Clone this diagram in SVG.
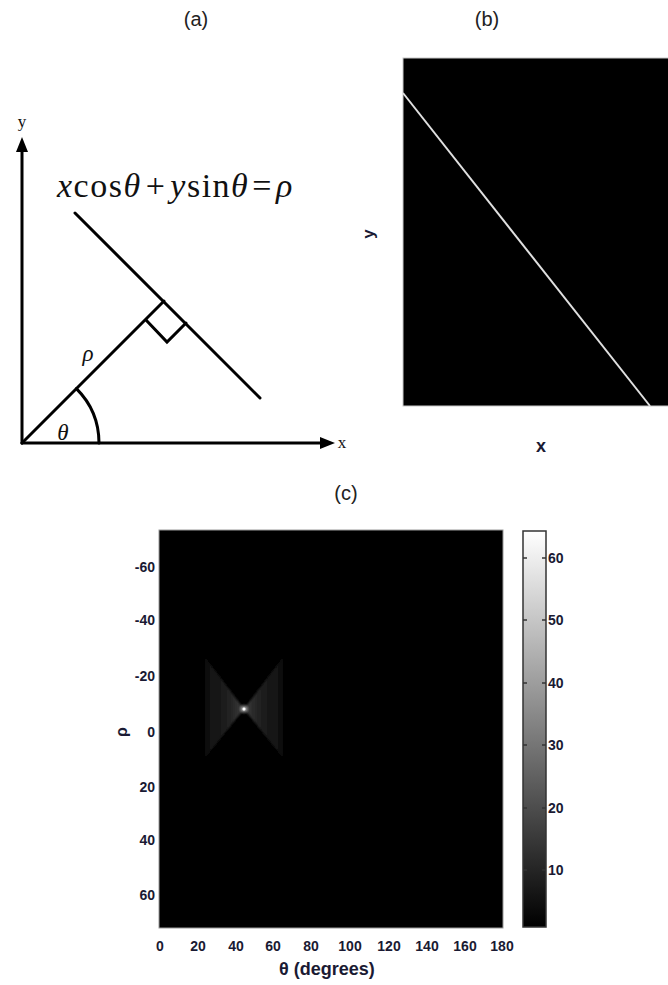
<svg xmlns="http://www.w3.org/2000/svg" width="668" height="985" viewBox="0 0 668 985">
  <style>
    .title { font-family: "Liberation Sans", Arial, sans-serif; font-size: 20px; fill: #222; text-anchor: middle; }
    .geo { stroke: #000; stroke-width: 3; fill: none; stroke-linecap: round; }
    .math { font-family: "Liberation Serif", "Times New Roman", serif; fill: #111; }
    .it { font-style: italic; }
    .tick { font-family: "Liberation Sans", Arial, sans-serif; font-size: 14px; font-weight: bold; fill: #1a1a33; }
    .lab { font-family: "Liberation Sans", Arial, sans-serif; font-weight: bold; fill: #1a1a33; }
  </style>
  <defs>
    <linearGradient id="cbar" x1="0" y1="0" x2="0" y2="1">
      <stop offset="0" stop-color="#ffffff"/>
      <stop offset="1" stop-color="#000000"/>
    </linearGradient>
    <linearGradient id="wingL" gradientUnits="userSpaceOnUse" x1="244" y1="0" x2="205" y2="0">
      <stop offset="0" stop-color="#5a5a5a"/>
      <stop offset="0.12" stop-color="#333333"/>
      <stop offset="0.45" stop-color="#1e1e1e"/>
      <stop offset="1" stop-color="#0e0e0e"/>
    </linearGradient>
    <linearGradient id="wingR" gradientUnits="userSpaceOnUse" x1="244" y1="0" x2="283" y2="0">
      <stop offset="0" stop-color="#5a5a5a"/>
      <stop offset="0.12" stop-color="#333333"/>
      <stop offset="0.45" stop-color="#1e1e1e"/>
      <stop offset="1" stop-color="#0e0e0e"/>
    </linearGradient>
    <radialGradient id="glow">
      <stop offset="0" stop-color="#ffffff"/>
      <stop offset="0.3" stop-color="#bbbbbb" stop-opacity="0.7"/>
      <stop offset="1" stop-color="#555555" stop-opacity="0"/>
    </radialGradient>
    <filter id="soft" x="-10%" y="-10%" width="120%" height="120%">
      <feGaussianBlur stdDeviation="1.2"/>
    </filter>
  </defs>
  <rect width="668" height="985" fill="#fff"/>

  <!-- Titles -->
  <text class="title" x="196" y="26">(a)</text>
  <text class="title" x="487" y="26">(b)</text>
  <text class="title" x="346" y="500">(c)</text>

  <!-- Panel (a) -->
  <g id="panel-a">
    <g id="axes-a">
      <line class="geo" x1="22" y1="443" x2="22" y2="148" stroke-linecap="butt"/>
      <polygon points="22,137 16,152 28,152" fill="#000"/>
      <line class="geo" x1="22" y1="443" x2="324" y2="443" stroke-linecap="butt"/>
      <polygon points="335,443 320,437 320,449" fill="#000"/>
      <text class="math" x="22" y="127" font-size="17" text-anchor="middle">y</text>
      <text class="math" x="342" y="448" font-size="17" text-anchor="middle">x</text>
    </g>
    <g id="line-a">
      <line class="geo" x1="75" y1="213" x2="260" y2="398"/>
      <line class="geo" x1="22" y1="443" x2="164" y2="301"/>
      <polyline class="geo" points="146,320 167,342 186,323" stroke-linejoin="miter"/>
      <path class="geo" d="M 76.4 388.6 A 77 77 0 0 1 99 443"/>
    </g>
    <text class="math it" x="63" y="440" font-size="23" text-anchor="middle">θ</text>
    <text class="math it" x="88" y="361" font-size="23" text-anchor="middle">ρ</text>
    <text class="math" x="57" y="197" font-size="34" letter-spacing="1.5"><tspan class="it">x</tspan>cos<tspan class="it">θ</tspan><tspan dx="4">+</tspan><tspan class="it" dx="4">y</tspan>sin<tspan class="it">θ</tspan><tspan dx="3">=</tspan><tspan class="it" dx="3">ρ</tspan></text>
  </g>

  <!-- Panel (b) -->
  <g id="panel-b">
    <rect x="403" y="58" width="266" height="348" fill="#000" stroke="#c8c8c8" stroke-width="1"/>
    <line x1="403" y1="93" x2="650" y2="406" stroke="#e0e0e0" stroke-width="2"/>
    <text class="lab" font-size="17" transform="translate(374,234) rotate(-90)" text-anchor="middle">y</text>
    <text class="lab" font-size="18" x="541" y="452" text-anchor="middle">x</text>
  </g>

  <!-- Panel (c) -->
  <g id="panel-c">
    <rect x="159" y="530" width="344" height="398" fill="#000" stroke="#9a9a9a" stroke-width="1"/>
    <g filter="url(#soft)">
      <polygon points="244,709 205,657 205,758" fill="url(#wingL)"/>
      <polygon points="244,709 283,657 283,758" fill="url(#wingR)"/>
    </g>
    <circle cx="244" cy="709" r="6" fill="url(#glow)"/>
    <circle cx="244" cy="709" r="1.5" fill="#fff"/>

    <g id="yticks" text-anchor="end">
      <text class="tick" x="155" y="572">-60</text>
      <text class="tick" x="155" y="625">-40</text>
      <text class="tick" x="155" y="681">-20</text>
      <text class="tick" x="155" y="737">0</text>
      <text class="tick" x="155" y="792">20</text>
      <text class="tick" x="155" y="845">40</text>
      <text class="tick" x="155" y="900">60</text>
    </g>
    <text class="lab" font-size="16" transform="translate(127,732) rotate(-90)" text-anchor="middle">ρ</text>

    <g id="xticks" text-anchor="middle">
      <text class="tick" x="160" y="951">0</text>
      <text class="tick" x="198" y="951">20</text>
      <text class="tick" x="236" y="951">40</text>
      <text class="tick" x="273" y="951">60</text>
      <text class="tick" x="311" y="951">80</text>
      <text class="tick" x="350" y="951">100</text>
      <text class="tick" x="389" y="951">120</text>
      <text class="tick" x="427" y="951">140</text>
      <text class="tick" x="465" y="951">160</text>
      <text class="tick" x="502" y="951">180</text>
    </g>
    <text class="lab" font-size="18" x="327" y="975" text-anchor="middle">θ (degrees)</text>

    <g id="colorbar">
      <rect x="523" y="531" width="23" height="396" fill="url(#cbar)" stroke="#333" stroke-width="1.5"/>
      <g stroke="#333" stroke-width="1.5">
        <line x1="523" y1="558" x2="527" y2="558"/><line x1="542" y1="558" x2="546" y2="558"/>
        <line x1="523" y1="620" x2="527" y2="620"/><line x1="542" y1="620" x2="546" y2="620"/>
        <line x1="523" y1="683" x2="527" y2="683"/><line x1="542" y1="683" x2="546" y2="683"/>
        <line x1="523" y1="745" x2="527" y2="745"/><line x1="542" y1="745" x2="546" y2="745"/>
        <line x1="523" y1="808" x2="527" y2="808"/><line x1="542" y1="808" x2="546" y2="808"/>
        <line x1="523" y1="870" x2="527" y2="870"/><line x1="542" y1="870" x2="546" y2="870"/>
      </g>
      <text class="tick" x="548" y="563">60</text>
      <text class="tick" x="548" y="625">50</text>
      <text class="tick" x="548" y="688">40</text>
      <text class="tick" x="548" y="750">30</text>
      <text class="tick" x="548" y="813">20</text>
      <text class="tick" x="548" y="875">10</text>
    </g>
  </g>
</svg>
